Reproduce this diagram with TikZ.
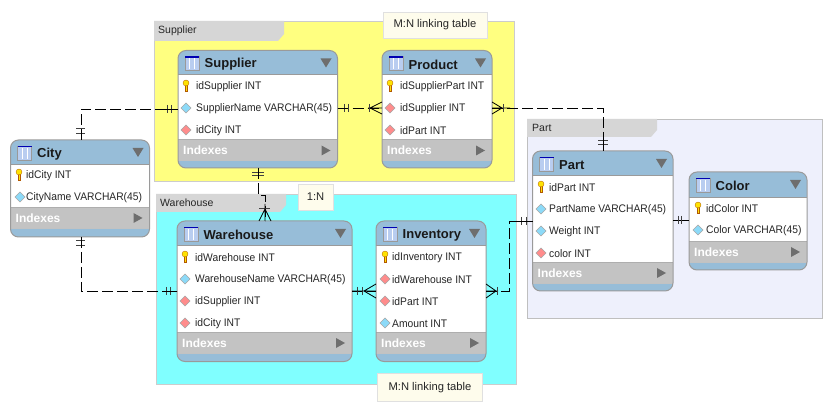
\documentclass[tikz,border=0pt]{standalone}
\usepackage{fontspec}
\setmainfont{Liberation Sans}
\newfontfamily\rowf[FakeStretch=0.935]{Liberation Sans}
\usetikzlibrary{calc}
\definecolor{hdr}{HTML}{97BDD8}
\definecolor{band}{HTML}{C3C3C3}
\definecolor{edge}{HTML}{9A9A9A}
\definecolor{tri}{HTML}{6E6E6E}
\definecolor{lyellow}{HTML}{FFFF80}
\definecolor{lcyan}{HTML}{80FFFF}
\definecolor{lpart}{HTML}{EEF0FC}
\definecolor{tabc}{HTML}{D6D6D6}
\definecolor{notec}{HTML}{FEFCEC}
\definecolor{iconb}{HTML}{B9CDF0}
\tikzset{
  tablebox/.style={draw=edge,line width=1pt,rounded corners=8pt,inner sep=0pt,fill=none},
  titletext/.style={font=\bfseries\fontsize{13}{15}\selectfont,anchor=west,inner sep=0pt,text=black!90},
  rowtext/.style={font=\rowf\fontsize{11}{13}\selectfont,anchor=west,inner sep=0pt,text=black!85},
  idxtext/.style={font=\bfseries\fontsize{12}{14}\selectfont,anchor=west,inner sep=0pt,text=white},
  layertext/.style={font=\fontsize{10.5}{12}\selectfont,anchor=west,inner sep=0pt,text=black!85},
  notebox/.style={draw=black!12,fill=notec,font=\fontsize{11.2}{13}\selectfont,inner sep=0pt,text=black!85},
  rel/.style={line width=0.8pt,dash pattern=on 11pt off 4pt},
  relsolid/.style={line width=0.8pt},
  barmark/.style={line width=1pt,draw=black!75},
}
\newcommand{\keyicon}[2]{%
  \fill[yellow!85!orange,draw=orange!70!black,line width=.3pt] (#1-1.2,#2-1) rectangle (#1+1.2,#2+5);
  \fill[yellow!85!orange,draw=orange!70!black,line width=.3pt] (#1,#2-3) circle (3pt);}
\newcommand{\dicon}[3]{%
  \fill[#3,draw=black!35,line width=.4pt] (#1-5,#2) -- (#1,#2-5) -- (#1+5,#2) -- (#1,#2+5) -- cycle;}
\newcommand{\cicon}[2]{\dicon{#1}{#2}{cyan!45}}
\newcommand{\ficon}[2]{\dicon{#1}{#2}{red!45}}
\newcommand{\tabletop}[8]{%
  \begin{scope}
    \clip[rounded corners=8pt] (#2,#3) rectangle (#4,#5);
    \fill[hdr] (#2,#3) rectangle (#4,#5);
    \fill[white] (#2,#6) rectangle (#4,#7);
    \fill[band] (#2,#7) rectangle (#4,#7+21);
    \draw[edge,line width=.8pt] (#2,#6) -- (#4,#6);
    \draw[edge!80,line width=.8pt] (#2,#7) -- (#4,#7);
    \draw[edge!60,line width=.6pt] (#2,#7+21) -- (#4,#7+21);
  \end{scope}
  \pgfmathsetmacro{\cxx}{(#2+#4)/2}\pgfmathsetmacro{\cyy}{(#3+#5)/2}
  \pgfmathsetmacro{\www}{#4-#2}\pgfmathsetmacro{\hhh}{#5-#3}
  \node[tablebox,minimum width=\www pt,minimum height=\hhh pt] (#1) at (\cxx,\cyy) {};
  \fill[iconb,draw=black!40,line width=.4pt] (#2+7,#3+6) rectangle (#2+21,#3+20);
  \draw[blue!70!black,line width=1.2pt] (#2+7,#3+6.5) -- (#2+21,#3+6.5);
  \draw[white,line width=.6pt] (#2+11.5,#3+8) -- (#2+11.5,#3+19) (#2+16.5,#3+8) -- (#2+16.5,#3+19);
  \node[titletext] (#1-title) at (#2+26.5,#3+14) {#8};
  \fill[tri] (#4-17,#3+8) -- (#4-6,#3+8) -- (#4-11.5,#3+17) -- cycle;
  \node[idxtext] (#1-idx) at (#2+5,#7+11) {Indexes};
  \fill[tri] (#4-16,#7+6) -- (#4-7,#7+11) -- (#4-16,#7+16) -- cycle;
}
\newcommand{\rowline}[4]{\node[rowtext] (#1) at (#2+18,#3+1) {#4};}
\begin{document}
\begin{tikzpicture}[x=1pt,y=-1pt]
\useasboundingbox (0,0) rectangle (832,411);
\fill[white] (0,0) rectangle (832,411);

\fill[lyellow,draw=black!20,line width=.6pt] (154,21) rectangle (514,181);
\fill[tabc] (154,21) -- (284,21) -- (284,34) -- (278,41) -- (154,41) -- cycle;
\node[layertext] (lsupplier) at (158,31) {Supplier};

\fill[lcyan,draw=black!20,line width=.6pt] (156,194) rectangle (516,384);
\fill[tabc] (156,194) -- (286,194) -- (286,205) -- (280,212) -- (156,212) -- cycle;
\node[layertext] (lwarehouse) at (160,203) {Warehouse};

\fill[lpart,draw=black!25,line width=.6pt] (527,119) rectangle (822,318);
\fill[tabc] (527,119) -- (657,119) -- (657,130) -- (651,137) -- (527,137) -- cycle;
\node[layertext] (lpart) at (532,128) {Part};

\node[notebox,minimum width=104pt,minimum height=26pt] (note1) at (435,25) {M:N linking table};
\node[notebox,minimum width=35pt,minimum height=26pt] (note2) at (315.5,197) {1:N};
\node[notebox,minimum width=105pt,minimum height=28pt] (note3) at (430,387.5) {M:N linking table};

\tabletop{city}{10.5}{140}{149.5}{237}{164}{207}{City}
\keyicon{19}{175}\rowline{c1}{8}{175}{idCity INT}
\cicon{20}{197}\rowline{c2}{8}{197}{CityName VARCHAR(45)}

\tabletop{supplier}{178}{50.5}{337.5}{168}{74.5}{139.5}{Supplier}
\keyicon{186}{86}\rowline{s1}{178}{86}{idSupplier INT}
\cicon{186}{108}\rowline{s2}{178}{108}{SupplierName VARCHAR(45)}
\ficon{186}{130}\rowline{s3}{178}{130}{idCity INT}

\tabletop{product}{382}{50.5}{492}{168}{74.5}{139.5}{Product}
\keyicon{390}{86}\rowline{p1}{382}{86}{idSupplierPart INT}
\ficon{390}{108}\rowline{p2}{382}{108}{idSupplier INT}
\ficon{390}{130}\rowline{p3}{382}{130}{idPart INT}

\tabletop{warehouse}{177}{221}{352}{361.5}{245.5}{332}{Warehouse}
\keyicon{185}{257}\rowline{w1}{177}{257}{idWarehouse INT}
\cicon{185}{279}\rowline{w2}{177}{279}{WarehouseName VARCHAR(45)}
\ficon{185}{301}\rowline{w3}{177}{301}{idSupplier INT}
\ficon{185}{323}\rowline{w4}{177}{323}{idCity INT}

\tabletop{inventory}{376}{221}{486}{361.5}{245.5}{332}{Inventory}
\keyicon{385}{257}\rowline{i1}{374}{257}{idInventory INT}
\ficon{385}{279}\rowline{i2}{374}{279}{idWarehouse INT}
\ficon{385}{301}\rowline{i3}{374}{301}{idPart INT}
\cicon{385}{323}\rowline{i4}{374}{323}{Amount INT}

\tabletop{part}{532.5}{151}{673}{291}{175.5}{262}{Part}
\keyicon{541}{187}\rowline{a1}{531}{187}{idPart INT}
\cicon{541}{209}\rowline{a2}{531}{209}{PartName VARCHAR(45)}
\cicon{541}{231}\rowline{a3}{531}{231}{Weight INT}
\ficon{541}{253}\rowline{a4}{531}{253}{color INT}

\tabletop{color}{689}{172}{807}{270}{197}{241}{Color}
\keyicon{698}{208}\rowline{k1}{688}{208}{idColor INT}
\cicon{698}{230}\rowline{k2}{688}{230}{Color VARCHAR(45)}

\coordinate (pCityS) at (81,109);
\coordinate (pCityW) at (81,291);
\coordinate (pSupL) at (178,109);
\coordinate (pWhL) at (177,291);
\coordinate (pCityT) at (81,140);
\coordinate (pCityB) at (81,237);
\coordinate (pSupR) at (337.5,108);
\coordinate (pProdL) at (382,108);
\coordinate (pProdR) at (492,108);
\coordinate (pPartT) at (603,151);
\coordinate (pCornP) at (603,108);
\coordinate (pSupB) at (258,168);
\coordinate (pJog) at (258,195);
\coordinate (pJog2) at (265,195);
\coordinate (pWhT) at (265,221);
\coordinate (pWhR) at (352,291);
\coordinate (pInL) at (376,291);
\coordinate (pInR) at (486,291);
\coordinate (pBend1) at (509,291);
\coordinate (pBend2) at (509,221);
\coordinate (pPartL) at (532.5,221);
\coordinate (pPartR) at (673,220);
\coordinate (pColL) at (689,220);

\draw[rel] (pCityT) -- (pCityS) -- (pSupL);
\draw[rel] (pCityB) -- (pCityW) -- (pWhL);
\draw[rel] (pSupR) -- (pProdL);
\draw[rel] (pProdR) -- (pCornP) -- (pPartT);
\draw[rel] (pSupB) -- (pJog) -- (pJog2) -- (pWhT);
\draw[rel] (pWhR) -- (pInL);
\draw[rel] (pInR) -- (pBend1) -- (pBend2) -- (pPartL);
\draw[relsolid] (pPartR) -- (pColL);

\draw[barmark] (76,129) -- (85,129) (76,134) -- (85,134);
\draw[relsolid] (81,129) -- (81,140);
\draw[barmark] (76,241) -- (85,241) (76,246) -- (85,246);
\draw[relsolid] (81,237) -- (81,246);
\draw[barmark] (167,105) -- (167,113) (171,105) -- (171,113);
\draw[relsolid] (162,109) -- (178,109);
\draw[barmark] (166,287) -- (166,295) (170,287) -- (170,295);
\draw[relsolid] (162,291) -- (177,291);
\draw[barmark] (344,104) -- (344,112) (348,104) -- (348,112);
\draw[relsolid] (337.5,108) -- (348,108);
\draw[relsolid] (370,108) -- (382,102) (370,108) -- (382,114) (368,108) -- (382,108);
\draw[barmark] (369,104) -- (369,112);
\draw[relsolid] (492,102) -- (502,108) -- (492,114) (492,108) -- (510,108);
\draw[barmark] (503,104) -- (503,112);
\draw[barmark] (598,141) -- (608,141) (598,145) -- (608,145);
\draw[relsolid] (603,139) -- (603,151);
\draw[barmark] (252,172.5) -- (264,172.5) (252,176) -- (264,176);
\draw[relsolid] (258,168) -- (258,178);
\draw[barmark] (259,209) -- (270,209);
\draw[relsolid] (265,204) -- (265,221) (265,209) -- (259,221) (265,209) -- (271,221);
\draw[barmark] (357,287) -- (357,295) (362,287) -- (362,295);
\draw[relsolid] (352,291) -- (376,291) (364,291) -- (376,284) (364,291) -- (376,298);
\draw[relsolid] (486,291) -- (498,291) (486,284) -- (496,291) -- (486,298);
\draw[barmark] (497,287) -- (497,295);
\draw[barmark] (521,217) -- (521,225) (526,217) -- (526,225);
\draw[relsolid] (516,221) -- (532.5,221);
\draw[barmark] (678,216) -- (678,224) (681,216) -- (681,224);
\end{tikzpicture}
\end{document}
